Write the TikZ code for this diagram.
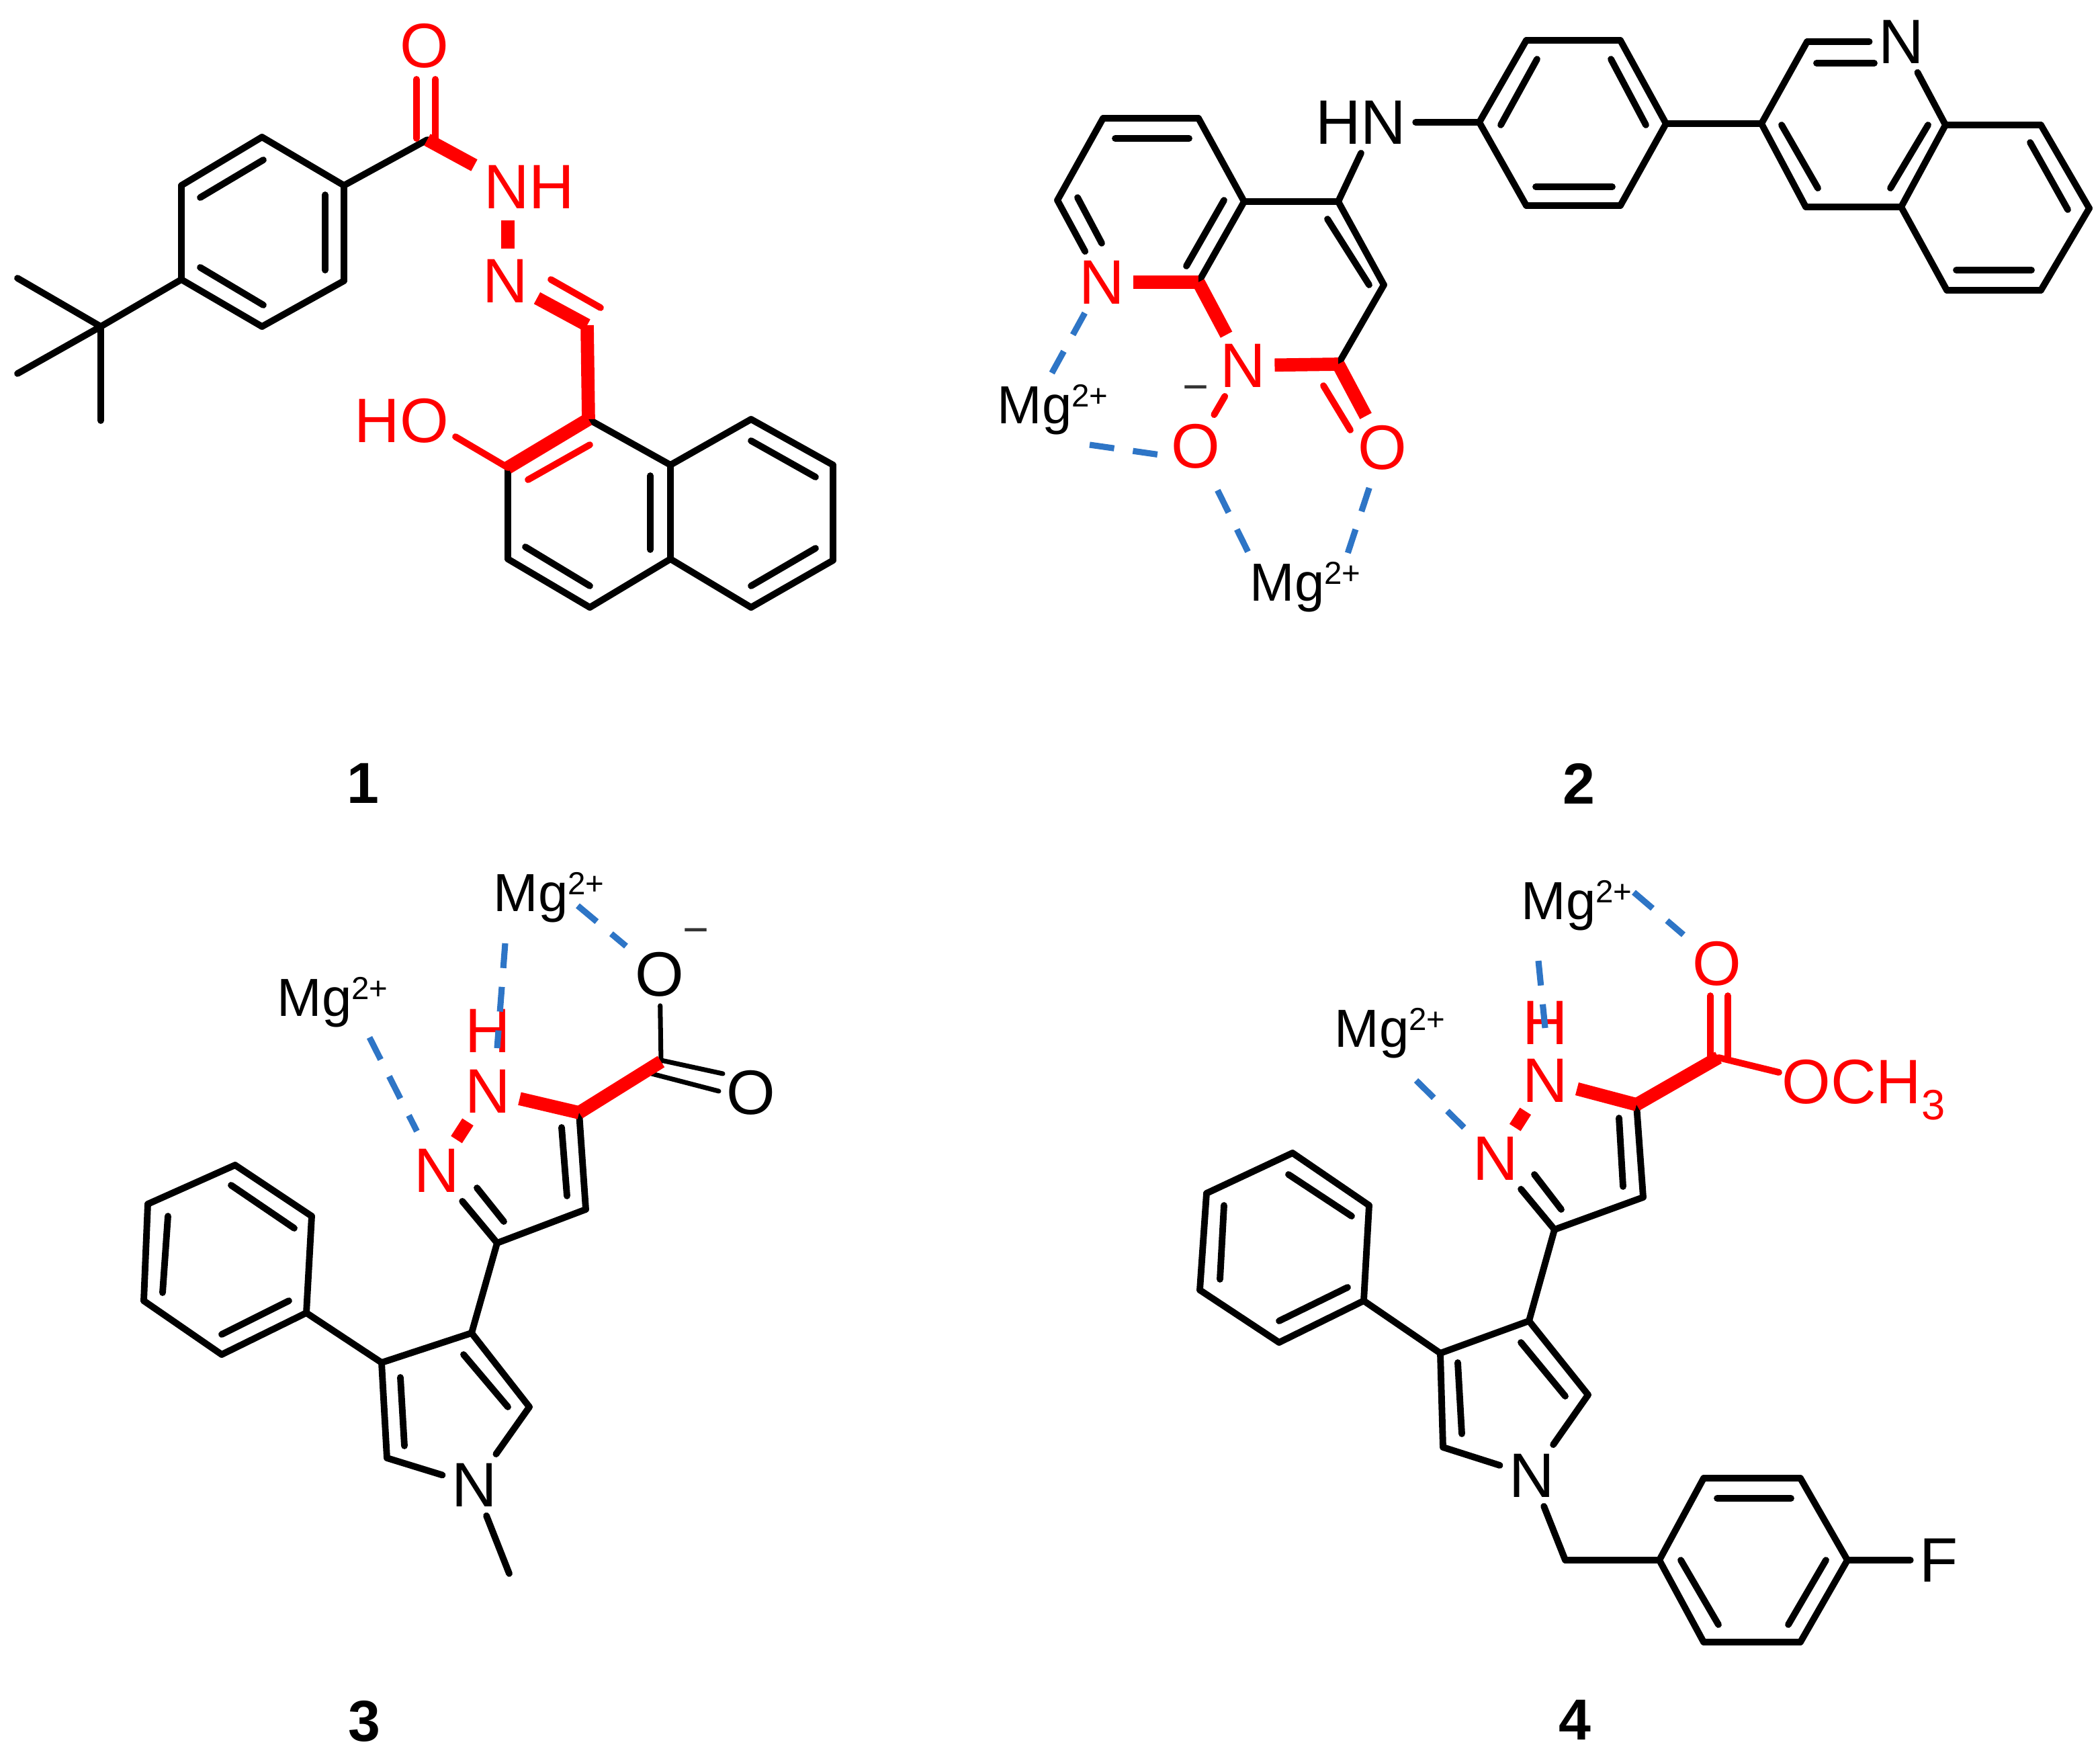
\documentclass[tikz,border=0pt]{standalone}
\usepackage{fontspec}
\setmainfont{Liberation Sans}
\definecolor{mgblue}{HTML}{2E75C6}
\newcommand{\atomfont}{\fontsize{26.6pt}{28pt}\selectfont}
\newcommand{\mgfont}{\fontsize{22.7pt}{24pt}\selectfont}
\newcommand{\mgtext}{Mg\raisebox{7pt}{\fontsize{13.5pt}{14pt}\selectfont 2+}}
\tikzset{
  bond/.style={line width=2.8pt,line cap=round,line join=round},
  tbond/.style={line width=2pt,line cap=round},
  rbond/.style={bond,draw=red},
  rthick/.style={line width=5.6pt,draw=red,line cap=butt},
  mgdash/.style={line width=2.6pt,draw=mgblue,dash pattern=on 10.5pt off 8pt},
  atom/.style={inner sep=3.7pt,font=\atomfont},
  ratom/.style={atom,text=red},
  mgion/.style={inner sep=0pt,anchor=base west,font=\mgfont},
  chg/.style={inner sep=0pt,font=\fontsize{19pt}{20pt}\selectfont,text=black!80},
  tag/.style={inner sep=0pt,font=\fontsize{24.5pt}{26pt}\selectfont\bfseries}
}
\begin{document}
\begin{tikzpicture}
  [x=.02cm,y=-.02cm]
  \useasboundingbox (0,0) rectangle (1563,1309);

  % compound 1
  \foreach \name/\x/\y in {ma/13/207,mb/13/278,mc/75/313,md/75/243,
    a1/135/208,a2/135/138,a3/195/102,a4/256/138,a5/256/209,a6/195/243,
    co/318/104,ch/437/242,nb/353/123,nt/378/164,nu/378/185,ob/339/325,
    n1/438/312,n2/378/348,n3/378/416,n4/439/452,n5/499/416,
    n6/499/346,n7/559/312,n8/620/346,n9/620/417,n10/559/452}
    \coordinate (\name) at (\x,\y);
  \node[ratom] (m1o) at (316,34) {O};
  \node[ratom] (m1nh) at (394,139) {NH};
  \node[ratom] (m1n) at (376,209) {N};
  \node[ratom] (m1ho) at (299,313) {HO};
  \foreach \from/\to in {ma/md,mb/md,mc/md,md/a1,a1/a2,a2/a3,a3/a4,a4/a5,a5/a6,a6/a1,a4/co,
    n1/n6,n6/n7,n7/n8,n8/n9,n9/n10,n10/n5,n5/n6,n5/n4,n4/n3,n3/n2}
    \draw[bond] (\from) -- (\to);
  \foreach \name/\xa/\ya/\xb/\yb in {ia/149/147/196/119,ib/242/145/242/201,ic/149/199/196/227,
    id/484/354/484/409,ie/391/407/439/436,if/559/328/607/355,ig/607/408/559/436}
    {\coordinate (\name a) at (\xa,\ya);
     \coordinate (\name b) at (\xb,\yb);
     \draw[bond] (\name a) -- (\name b);}
  \foreach \name/\xa/\ya/\xb/\yb in {oa/310/59/310/103,ob/324/59/324/103,
    cn/410/208/447/229,rn/439/331/393/357}
    {\coordinate (\name a) at (\xa,\ya);
     \coordinate (\name b) at (\xb,\yb);
     \draw[rbond] (\name a) -- (\name b);}
  \draw[rbond] (ob) -- (n2);
  \foreach \from/\to in {co/nb,nt/nu,m1n/ch,ch/n1,n1/n2}
    \draw[rthick] (\from) -- (\to);
  \node[tag] (lab1) at (270,583) {1};

  % compound 2
  \foreach \name/\x/\y in {ba/821/88,bb/892/88,bc/926/150,bd/892/210,be/787/149,
    bf/996/150,bg/1030/212,bh/996/271,
    p1/1101/91,p2/1136/30,p3/1206/30,p4/1240/92,p5/1206/153,p6/1136/153,
    q1/1311/92,q2/1345/31,q3/1448/93,q4/1415/154,q5/1344/154,
    q6/1519/93,q7/1555/155,q8/1519/216,q9/1449/216,
    ma1/781/281,ma2/811/331,mb1/931/415,mb2/1002/415}
    \coordinate (\name) at (\x,\y);
  \node[ratom] (m2n) at (820,210) {N};
  \node[ratom] (m2nb) at (925,272) {N};
  \node[ratom] (m2oa) at (890,332) {O};
  \node[ratom] (m2ob) at (1029,333) {O};
  \node[atom] (m2hn) at (1013,91) {HN};
  \node[atom] (m2nq) at (1415,31) {N};
  \node[chg] (m2chg) at (890,293) {−};
  \node[mgion] (m2mga) at (742,315) {\mgtext};
  \node[mgion] (m2mgb) at (930,447) {\mgtext};
  \foreach \from/\to in {be/ba,ba/bb,bb/bc,bc/bd,bc/bf,bf/bg,bg/bh,be/m2n,
    bf/m2hn.south,m2hn.east/p1,p1/p2,p2/p3,p3/p4,p4/p5,p5/p6,p6/p1,p4/q1,
    q1/q2,q2/m2nq,m2nq/q3,q3/q4,q4/q5,q5/q1,q3/q6,q6/q7,q7/q8,q8/q9,q9/q4}
    \draw[bond] (\from) -- (\to);
  \foreach \name/\xa/\ya/\xb/\yb in {ja/830/103/885/103,jb/802/147/820/181,jc/911/149/883/198,
    jd/988/163/1019/212,je/1117/93/1144/44,jf/1199/44/1225/93,jg/1143/139/1200/139,
    jh/1352/47/1395/47,ji/1326/93/1353/140,jj/1435/93/1407/140,jk/1511/106/1539/156,jl/1456/201/1512/201}
    {\coordinate (\name a) at (\xa,\ya);
     \coordinate (\name b) at (\xb,\yb);
     \draw[bond] (\name a) -- (\name b);}
  \coordinate (oda) at (985,287);
  \coordinate (odb) at (1005,320);
  \draw[rbond] (oda) -- (odb);
  \draw[rbond] (m2nb) -- (m2oa);
  \foreach \from/\to in {m2n/bd,bd/m2nb,m2nb/bh,bh/m2ob}
    \draw[rthick] (\from) -- (\to);
  \draw[mgdash] (m2n) -- (ma1);
  \draw[mgdash] (ma2) -- (m2oa.195);
  \draw[mgdash,shorten <=6pt] (m2oa) -- (mb1);
  \draw[mgdash,shorten <=4pt] (m2ob) -- (mb2);
  \node[tag] (lab2) at (1175,583) {2};

  % compound 3
  \foreach \name/\x/\y in {cc/492/790,c5/431/828,c4/436/900,c3/370/925,
    y3/351/992,y4/284/1014,y5/288/1085,y2/394/1047,ym/379/1171,
    h1/228/977,h2/232/905,h3/175/867,h4/110/896,h5/107/968,h6/165/1008,
    mt/430/674,mu/376/702,mv/370/780,mw/275/772}
    \coordinate (\name) at (\x,\y);
  \node[atom] (m3om) at (491,725) {O};
  \node[atom] (m3o) at (559,813) {O};
  \node[ratom] (m3h) at (363,767) {H};
  \node[ratom] (m3na) at (363,812) {N};
  \node[ratom] (m3nb) at (325,871) {N};
  \node[atom] (m3n) at (353,1105) {N};
  \node[chg] (m3chg) at (518,697) {−};
  \node[mgion] (m3mga) at (367,678) {\mgtext};
  \node[mgion] (m3mgb) at (206,756) {\mgtext};
  \foreach \from/\to in {c5/c4,c4/c3,c3/m3nb,c3/y3,y3/y4,y4/y5,y5/m3n,m3n/y2,y2/y3,m3n/ym,
    y4/h1,h1/h2,h2/h3,h3/h4,h4/h5,h5/h6,h6/h1}
    \draw[bond] (\from) -- (\to);
  \foreach \name/\xa/\ya/\xb/\yb in {ka/418/839/422/890,kb/355/884/375/909,kc/345/1008/378/1047,
    kd/298/1025/301/1076,ke/215/968/165/993,kf/219/914/172/882,kg/125/905/121/962}
    {\coordinate (\name a) at (\xa,\ya);
     \coordinate (\name b) at (\xb,\yb);
     \draw[bond] (\name a) -- (\name b);}
  \foreach \name/\xa/\ya/\xb/\yb in {la/492/789/538/799,lb/485/799/535/812}
    {\coordinate (\name a) at (\xa,\ya);
     \coordinate (\name b) at (\xb,\yb);
     \draw[tbond] (\name a) -- (\name b);}
  \draw[tbond] (m3om) -- (cc);
  \foreach \from/\to in {m3na/m3nb,m3na/c5,c5/cc}
    \draw[rthick] (\from) -- (\to);
  \draw[mgdash] (mt) -- (m3om);
  \draw[mgdash] (mu) -- (mv);
  \draw[mgdash,shorten >=4pt] (mw) -- (m3nb);
  \node[tag] (lab3) at (271,1281) {3};

  % compound 4
  \foreach \name/\x/\y in {dc/1279/787,d5/1218/822,d4/1223/891,d3/1157/915,
    r3/1138/983,r4/1072/1007,r5/1074/1077,r2/1182/1038,rm/1165/1161,oc/1324/798,
    s1/1235/1161,s2/1268/1100,s3/1340/1100,s4/1375/1161,s5/1340/1222,s6/1268/1222,
    t1/1015/968,t2/1019/897,t3/962/858,t4/898/888,t5/893/960,t6/952/999,
    me/1216/664,mf/1145/715,mg/1150/765,mh/1054/804}
    \coordinate (\name) at (\x,\y);
  \node[ratom] (m4o) at (1278,717) {O};
  \node[ratom,inner sep=0pt,anchor=base west] (m4och) at (1326,821) {OCH\raisebox{-7pt}{\fontsize{18pt}{18pt}\selectfont 3}};
  \node[ratom] (m4h) at (1150,761) {H};
  \node[ratom] (m4na) at (1150,804) {N};
  \node[ratom] (m4nb) at (1113,862) {N};
  \node[atom] (m4n) at (1140,1098) {N};
  \node[atom] (m4f) at (1443,1161) {F};
  \node[mgion] (m4mga) at (1132,684) {\mgtext};
  \node[mgion] (m4mgb) at (993,779) {\mgtext};
  \foreach \from/\to in {d5/d4,d4/d3,d3/m4nb,d3/r3,r3/r4,r4/r5,r5/m4n,m4n/r2,r2/r3,m4n/rm,rm/s1,
    s1/s2,s2/s3,s3/s4,s4/s5,s5/s6,s6/s1,s4/m4f,
    r4/t1,t1/t2,t2/t3,t3/t4,t4/t5,t5/t6,t6/t1}
    \draw[bond] (\from) -- (\to);
  \foreach \name/\xa/\ya/\xb/\yb in {ua/1205/832/1208/883,ub/1142/874/1162/900,uc/1132/999/1165/1039,
    ud/1085/1014/1088/1067,ue/1278/1115/1333/1115,uf/1359/1161/1331/1209,ug/1251/1161/1279/1209,
    uh/1003/958/952/983,ui/1006/905/959/874,uj/911/897/908/952}
    {\coordinate (\name a) at (\xa,\ya);
     \coordinate (\name b) at (\xb,\yb);
     \draw[bond] (\name a) -- (\name b);}
  \foreach \name/\xa/\ya/\xb/\yb in {va/1273/741/1273/787,vb/1286/741/1286/787}
    {\coordinate (\name a) at (\xa,\ya);
     \coordinate (\name b) at (\xb,\yb);
     \draw[rbond] (\name a) -- (\name b);}
  \draw[rbond] (dc) -- (oc);
  \foreach \from/\to in {m4na/m4nb,m4na/d5,d5/dc}
    \draw[rthick] (\from) -- (\to);
  \draw[mgdash] (me) -- (m4o);
  \draw[mgdash] (mf) -- (mg);
  \draw[mgdash] (mh) -- (m4nb);
  \node[tag] (lab4) at (1172,1280) {4};
\end{tikzpicture}
\end{document}
